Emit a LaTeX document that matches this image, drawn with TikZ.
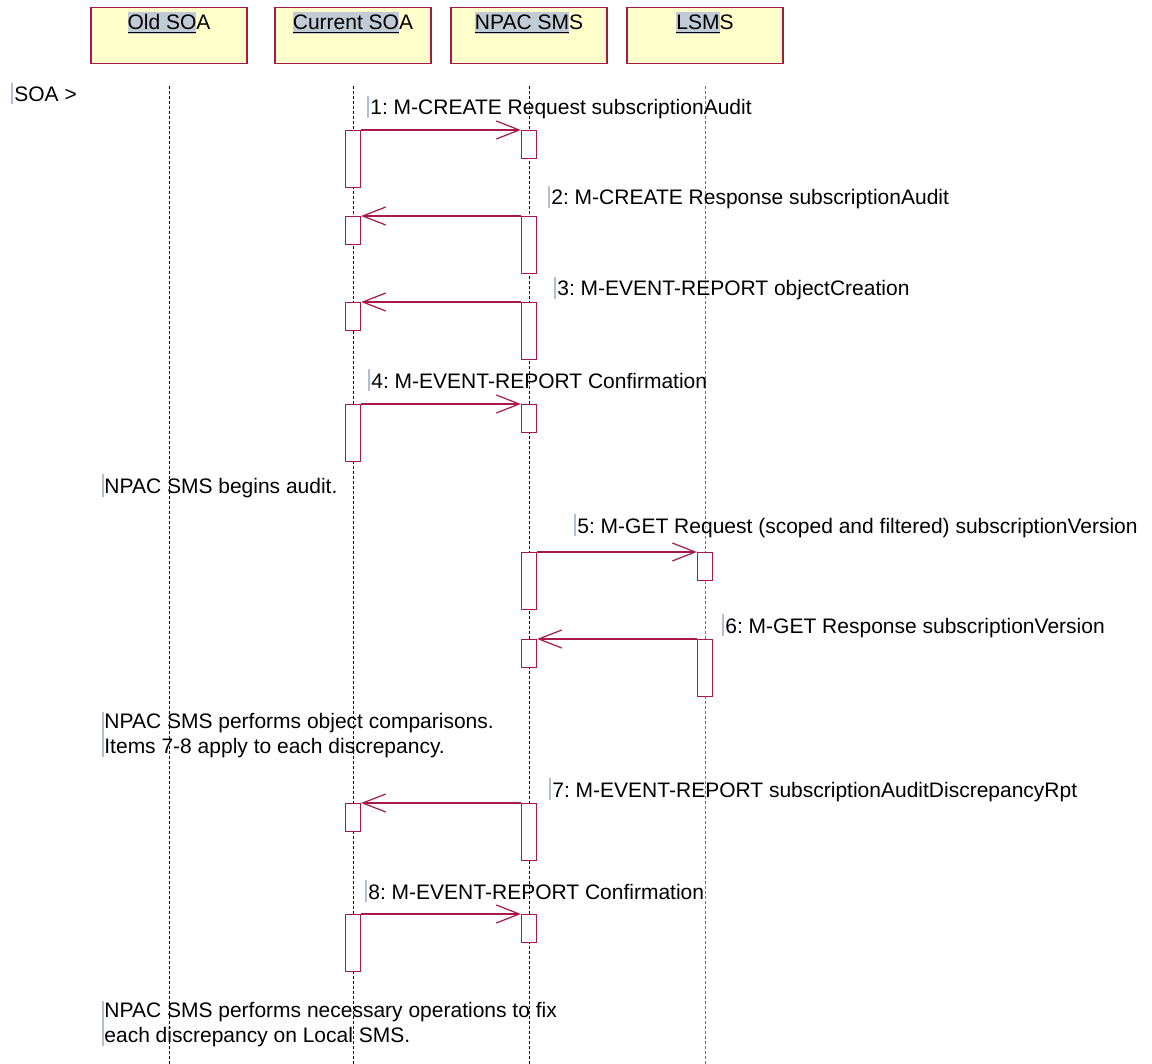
\documentclass[tikz,border=0pt]{standalone}
\usepackage{fontspec}
\setmainfont{Liberation Sans}
\usetikzlibrary{arrows.meta}
\frenchspacing

\definecolor{umlred}{RGB}{168,24,72}
\definecolor{hdrfill}{RGB}{255,255,204}
\definecolor{hlgray}{RGB}{192,203,214}
\definecolor{caretcol}{RGB}{176,192,210}

% выделенная часть заголовка
\newcommand{\hlname}[1]{{\setlength{\fboxsep}{0pt}\colorbox{hlgray}{\rule[-2pt]{0pt}{10.8pt}\underline{#1}}}}

\begin{document}
\begin{tikzpicture}[x=0.5pt, y=-0.5pt, font=\fontsize{10.5pt}{12.6pt}\selectfont,
  hdr/.style={draw=umlred, line width=0.7pt, fill=hdrfill, anchor=north, minimum width=78pt,
    inner xsep=0pt, inner ysep=0pt, text height=11pt, text depth=17pt},
  life/.style={dash pattern=on 1.5pt off 1pt, line width=0.5pt},
  actlong/.style={draw=umlred, fill=white, line width=0.6pt, anchor=north,
    minimum width=7.5pt, minimum height=28.5pt, inner sep=0pt},
  actshort/.style={actlong, minimum height=14pt},
  msg/.style={draw=umlred, line width=0.6pt, -{Straight Barb[length=11.5pt,width=9pt]}},
  txt/.style={anchor=base west, inner sep=0pt},
  caret/.style={draw=caretcol, line width=0.6pt}]
  \useasboundingbox[fill=white] (0,0) rectangle (1152,1064); % поле в пикселях

  % заголовки
  \node[hdr] (old)  at (169,7) {\hlname{Old SO}A};
  \node[hdr] (cur)  at (353,7) {\hlname{Current SO}A};
  \node[hdr] (npac) at (529,7) {\hlname{NPAC SM}S};
  \node[hdr] (lsms) at (705,7) {\hlname{LSM}S};

  \coordinate (bot) at (0,1064);
  \draw[life] (old.south)  ++(0,22) -- (old.south |- bot);
  \draw[life] (cur.south)  ++(0,22) -- (cur.south |- bot);
  \draw[life] (npac.south) ++(0,22) -- (npac.south |- bot);
  \draw[life, draw=black!55] (lsms.south) ++(0,22) -- (lsms.south |- bot);

  % 1
  \node[actlong]  (cur1)  at (353,130) {};
  \node[actshort] (npac1) at (529,130) {};
  \draw[msg] (cur1.north east) -- (npac1.north west);
  % 2
  \node[actlong]  (npac2) at (529,216) {};
  \node[actshort] (cur2)  at (353,216) {};
  \draw[msg] (npac2.north west) -- (cur2.north east);
  % 3
  \node[actlong]  (npac3) at (529,302) {};
  \node[actshort] (cur3)  at (353,302) {};
  \draw[msg] (npac3.north west) -- (cur3.north east);
  % 4
  \node[actlong]  (cur4)  at (353,404) {};
  \node[actshort] (npac4) at (529,404) {};
  \draw[msg] (cur4.north east) -- (npac4.north west);
  % 5
  \node[actlong]  (npac5) at (529,552) {};
  \node[actshort] (lsms5) at (705,552) {};
  \draw[msg] (npac5.north east) -- (lsms5.north west);
  % 6
  \node[actlong]  (lsms6) at (705,639) {};
  \node[actshort] (npac6) at (529,639) {};
  \draw[msg] (lsms6.north west) -- (npac6.north east);
  % 7
  \node[actlong]  (npac7) at (529,803) {};
  \node[actshort] (cur7)  at (353,803) {};
  \draw[msg] (npac7.north west) -- (cur7.north east);
  % 8
  \node[actlong]  (cur8)  at (353,914) {};
  \node[actshort] (npac8) at (529,914) {};
  \draw[msg] (cur8.north east) -- (npac8.north west);

  % подписи сообщений
  \node[txt] (t1) at (370,115) {1: M-CREATE Request subscriptionAudit};
  \node[txt] (t2) at (551,205) {2: M-CREATE Response subscriptionAudit};
  \node[txt] (t3) at (557,296) {3: M-EVENT-REPORT objectCreation};
  \node[txt] (t4) at (371,388) {4: M-EVENT-REPORT Confirmation};
  \node[txt] (t5) at (577,533) {5: M-GET Request (scoped and filtered) subscriptionVersion};
  \node[txt] (t6) at (725,633) {6: M-GET Response subscriptionVersion};
  \node[txt] (t7) at (552,797) {7: M-EVENT-REPORT subscriptionAuditDiscrepancyRpt};
  \node[txt] (t8) at (368,899) {8: M-EVENT-REPORT Confirmation};

  % заметки
  \node[txt] (soa)   at (14,102)  {SOA >};
  \node[txt] (note1) at (104,493) {NPAC SMS begins audit.};
  \node[txt] (note2) at (104,728) {NPAC SMS performs object comparisons.};
  \node[txt] (note2b) at (104,753) {Items 7-8 apply to each discrepancy.};
  \node[txt] (note3) at (104,1017) {NPAC SMS performs necessary operations to fix};
  \node[txt] (note3b) at (104,1042) {each discrepancy on Local SMS.};

  % курсоры перед текстом
  \draw[caret] ([xshift=-1pt]soa.base west) ++(0,2) -- ++(0,-21);
  \draw[caret] ([xshift=-1pt]t1.base west) ++(0,3) -- ++(0,-22);
  \draw[caret] ([xshift=-1pt]t2.base west) ++(0,3) -- ++(0,-22);
  \draw[caret] ([xshift=-1pt]t3.base west) ++(0,3) -- ++(0,-22);
  \draw[caret] ([xshift=-1pt]t4.base west) ++(0,3) -- ++(0,-22);
  \draw[caret] ([xshift=-1pt]t5.base west) ++(0,3) -- ++(0,-22);
  \draw[caret] ([xshift=-1pt]t6.base west) ++(0,3) -- ++(0,-22);
  \draw[caret] ([xshift=-1pt]t7.base west) ++(0,3) -- ++(0,-22);
  \draw[caret] ([xshift=-1pt]t8.base west) ++(0,3) -- ++(0,-22);
  \draw[caret] ([xshift=-0.5pt]note1.base west) ++(0,4) -- ++(0,-23);
  \draw[caret] ([xshift=-0.5pt]note2b.base west) ++(0,4) -- ([xshift=-0.5pt]note2.base west) -- ++(0,-16);
  \draw[caret] ([xshift=-0.5pt]note3b.base west) ++(0,4) -- ([xshift=-0.5pt]note3.base west) -- ++(0,-16);
\end{tikzpicture}
\end{document}
